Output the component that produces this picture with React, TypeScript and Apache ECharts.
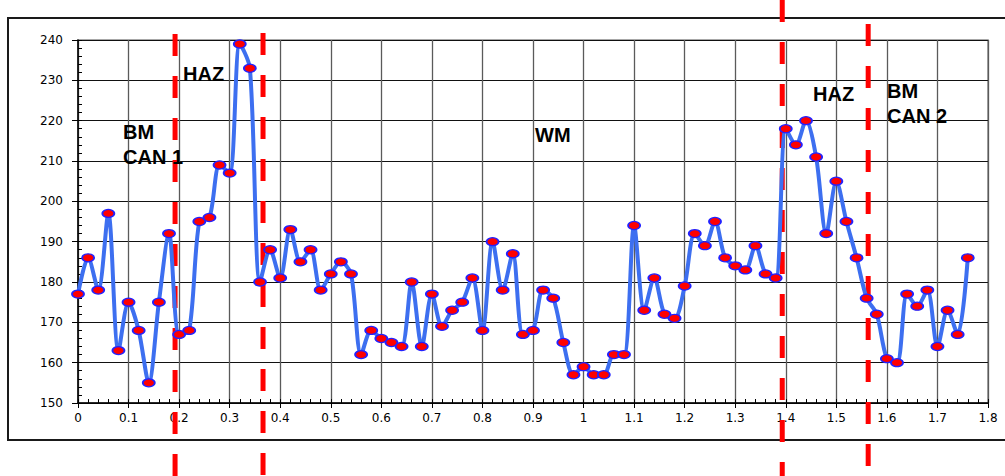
import React, { useEffect, useRef } from "react";
import * as echarts from "echarts";

// distance along the weld (x) and micro-hardness (y)
const positions = [
  0, 0.02, 0.04, 0.06, 0.08, 0.1, 0.12, 0.14, 0.16, 0.18,
  0.2, 0.22, 0.24, 0.26, 0.28, 0.3, 0.32, 0.34, 0.36, 0.38,
  0.4, 0.42, 0.44, 0.46, 0.48, 0.5, 0.52, 0.54, 0.56, 0.58,
  0.6, 0.62, 0.64, 0.66, 0.68, 0.7, 0.72, 0.74, 0.76, 0.78,
  0.8, 0.82, 0.84, 0.86, 0.88, 0.9, 0.92, 0.94, 0.96, 0.98,
  1.0, 1.02, 1.04, 1.06, 1.08, 1.1, 1.12, 1.14, 1.16, 1.18,
  1.2, 1.22, 1.24, 1.26, 1.28, 1.3, 1.32, 1.34, 1.36, 1.38,
  1.4, 1.42, 1.44, 1.46, 1.48, 1.5, 1.52, 1.54, 1.56, 1.58,
  1.6, 1.62, 1.64, 1.66, 1.68, 1.7, 1.72, 1.74, 1.76,
];
const hardness = [
  177, 186, 178, 197, 163, 175, 168, 155, 175, 192,
  167, 168, 195, 196, 209, 207, 239, 233, 180, 188,
  181, 193, 185, 188, 178, 182, 185, 182, 162, 168,
  166, 165, 164, 180, 164, 177, 169, 173, 175, 181,
  168, 190, 178, 187, 167, 168, 178, 176, 165, 157,
  159, 157, 157, 162, 162, 194, 173, 181, 172, 171,
  179, 192, 189, 195, 186, 184, 183, 189, 182, 181,
  218, 214, 220, 211, 192, 205, 195, 186, 176, 172,
  161, 160, 177, 174, 178, 164, 173, 167, 186,
];

// zone boundaries (x value) and the zone labels
const boundaries = [0.192, 0.366, 1.393, 1.563];
const boundaryTops = [34, 33, 0, 24];
const zoneLabels = [
  { text: "BM\nCAN 1", x: 123, y: 119 },
  { text: "HAZ", x: 183, y: 61 },
  { text: "WM", x: 535, y: 122 },
  { text: "HAZ", x: 813, y: 81 },
  { text: "BM\nCAN 2", x: 887, y: 78 },
];

const X_MIN = 0;
const X_MAX = 1.8;
const Y_MIN = 150;
const Y_MAX = 240;

export default function App() {
  const ref = useRef<HTMLDivElement>(null);

  useEffect(() => {
    if (!ref.current) return;
    const chart = echarts.init(ref.current, null, { renderer: "svg" });
    const labelFont = "'DejaVu Sans', sans-serif";
    chart.setOption({
      animation: false,
      backgroundColor: "#ffffff",
      grid: {
        left: 78,
        top: 40,
        width: 910,
        height: 363,
        show: true,
        borderColor: "#8a8a8a",
        borderWidth: 1.5,
        backgroundColor: "transparent",
      },
      xAxis: [
        {
          type: "value",
          min: X_MIN,
          max: X_MAX,
          interval: 0.1,
          axisLine: { show: true, onZero: false, lineStyle: { color: "#000", width: 1.5 } },
          axisTick: { show: true, length: 5, lineStyle: { color: "#000" } },
          axisLabel: {
            color: "#000",
            fontSize: 12,
            fontFamily: labelFont,
            margin: 9,
            formatter: (v: number) => String(Math.round(v * 10) / 10),
          },
          splitLine: { show: true, lineStyle: { color: "#5a5a5a", width: 1.3 } },
        },
        {
          type: "value",
          position: "bottom",
          min: X_MIN,
          max: X_MAX,
          interval: 0.02,
          axisLine: { show: false, onZero: false },
          axisTick: { show: true, inside: true, length: 4, lineStyle: { color: "#000" } },
          axisLabel: { show: false },
          splitLine: { show: false },
        },
      ],
      yAxis: [
        {
          type: "value",
          min: Y_MIN,
          max: Y_MAX,
          interval: 10,
          axisLine: { show: true, onZero: false, lineStyle: { color: "#000", width: 1.5 } },
          axisTick: { show: true, length: 6, lineStyle: { color: "#000" } },
          axisLabel: {
            color: "#000",
            fontSize: 12,
            fontFamily: labelFont,
            margin: 15,
          },
          splitLine: { show: true, lineStyle: { color: "#111", width: 1 } },
        },
        {
          type: "value",
          position: "left",
          min: Y_MIN,
          max: Y_MAX,
          interval: 2,
          axisLine: { show: false, onZero: false },
          axisTick: { show: true, inside: true, length: 4, lineStyle: { color: "#000" } },
          axisLabel: { show: false },
          splitLine: { show: false },
        },
      ],
      series: [
        {
          type: "line",
          xAxisIndex: 0,
          yAxisIndex: 0,
          data: positions.map((p, i) => [p, hardness[i]]),
          smooth: 0.3,
          symbol: "circle",
          symbolSize: [12, 8],
          showSymbol: true,
          lineStyle: { color: "#3d6ff0", width: 4 },
          itemStyle: { color: "#ff0000", borderColor: "#2222ff", borderWidth: 1.5 },
          z: 3,
        },
      ],
    });

    const elements: any[] = [
      {
        type: "rect",
        shape: { x: 8, y: 18, width: 1010, height: 422 },
        style: { fill: "none", stroke: "#1a1a1a", lineWidth: 2 },
        z: 0,
        silent: true,
      },
    ];
    boundaries.forEach((b, i) => {
      const px = chart.convertToPixel({ xAxisIndex: 0 }, b) as number;
      elements.push({
        type: "line",
        shape: { x1: px, y1: boundaryTops[i], x2: px, y2: 476 },
        style: { stroke: "#ff0000", lineWidth: 5, lineDash: [22, 20] },
        z: 1,
        silent: true,
      });
    });
    zoneLabels.forEach((l) => {
      elements.push({
        type: "text",
        x: l.x,
        y: l.y,
        style: {
          text: l.text,
          fill: "#000",
          font: "bold 20px 'Liberation Sans', Arial, sans-serif",
          lineHeight: 25,
          textAlign: "left",
          textVerticalAlign: "top",
        },
        z: 5,
        silent: true,
      });
    });
    chart.setOption({ graphic: { elements } });

    return () => chart.dispose();
  }, []);

  return (
    <div
      ref={ref}
      style={{ position: "fixed", left: 0, top: 0, width: 1005, height: 476, background: "#fff" }}
    />
  );
}
